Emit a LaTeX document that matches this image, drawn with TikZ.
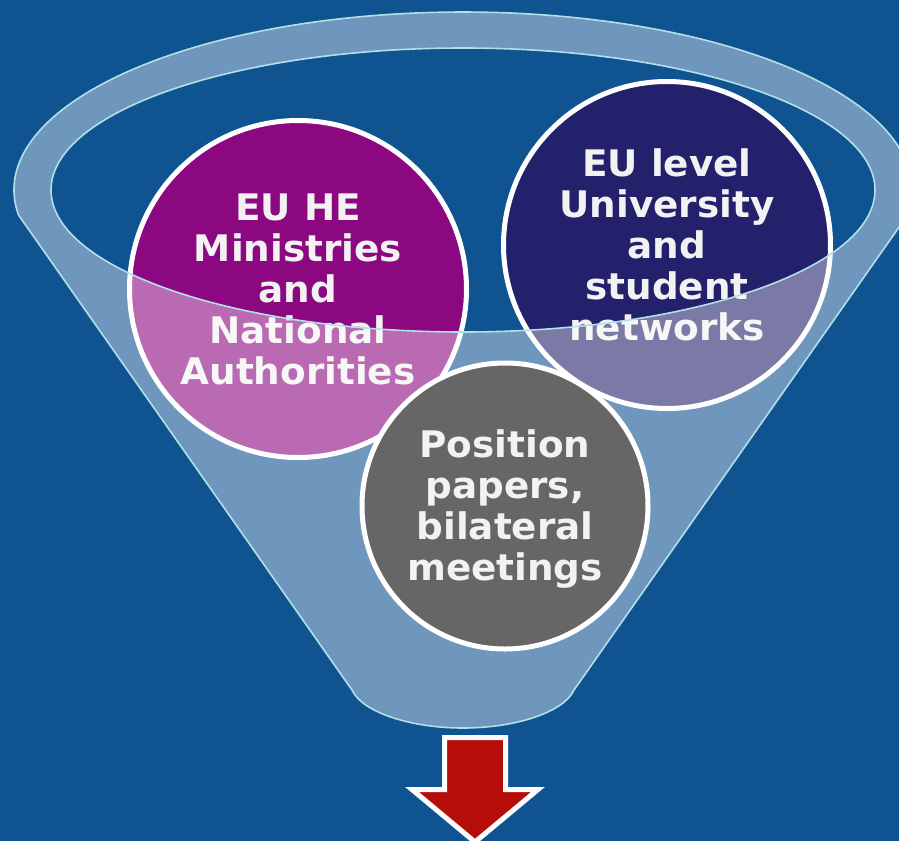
\documentclass[tikz,border=0pt]{standalone}
\usepackage{fontspec}
\setmainfont{DejaVu Sans}[FakeStretch=1.02]
\definecolor{bg}{RGB}{15,83,145}
\definecolor{mag}{RGB}{139,8,128}
\definecolor{navy}{RGB}{35,33,107}
\definecolor{gr}{RGB}{102,102,102}
\definecolor{rim}{RGB}{178,224,232}
\definecolor{txt}{RGB}{242,242,242}
\definecolor{arrowred}{RGB}{180,13,10}
\begin{document}
\begin{tikzpicture}[x=0.5pt,y=-0.5pt,
  bubble/.style={circle, draw=white, line width=2.5pt, inner sep=0pt},
  bubbletext/.style={text=txt, font=\bfseries\fontsize{18.3}{20.5}\selectfont, align=center, inner sep=0pt},
  rimline/.style={draw=rim, line width=0.8pt},
]
\fill[bg] (0,0) rectangle (899,841);
\useasboundingbox (0,0) rectangle (899,841);
% back circles
\node[bubble, fill=mag, minimum size=168.5pt] (c1) at (298,289) {};
\node[bubble, fill=navy, minimum size=163.5pt] (c2) at (667,245) {};
\node[bubbletext] (t1) at (c1.center) {EU HE\\Ministries\\and\\National\\Authorities};
\node[bubbletext] (t2) at (c2.center) {EU level\\University\\and\\student\\networks};
% funnel body (semi-transparent white)
\fill[white, opacity=0.4, even odd rule]
  (18.5,215) arc[start angle=171.93, end angle=368.07, x radius=449, y radius=178]
  -- (574,690) .. controls (564,712) and (516,728) .. (463,728)
  .. controls (410,728) and (362,712) .. (352,690) -- cycle
  (463,190) ellipse[x radius=412, y radius=142];
\draw[rimline]
  (18.5,215) arc[start angle=171.93, end angle=368.07, x radius=449, y radius=178]
  -- (574,690) .. controls (564,712) and (516,728) .. (463,728)
  .. controls (410,728) and (362,712) .. (352,690) -- cycle;
\draw[rimline] (463,190) ellipse[x radius=412, y radius=142];
% front circle
\node[bubble, fill=gr, minimum size=143pt] (c3) at (505,506) {};
\node[bubbletext] (t3) at ([yshift=-1.5pt]c3.center) {Position\\papers,\\bilateral\\meetings};
% arrow
\draw[white, line width=2.5pt, fill=arrowred, line join=miter]
  (444.5,737.5) -- (505.5,737.5) -- (505.5,789.5) -- (538,789.5) -- (475,842)
  -- (412,789.5) -- (444.5,789.5) -- cycle;
\end{tikzpicture}
\end{document}
